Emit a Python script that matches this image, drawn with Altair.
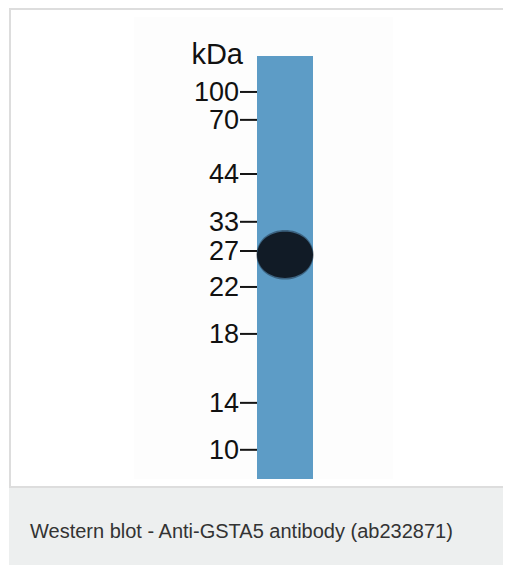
import altair as alt
import pandas as pd

# ---- data ----
marker_kda = ["100", "70", "44", "33", "27", "22", "18", "14", "10"]
# relative migration distance (0 = top of lane, 1 = bottom of lane)
marker_mobility = [0.085, 0.151, 0.279, 0.392, 0.461, 0.546, 0.657, 0.820, 0.931]
band_lane = [0.5]
band_mobility = [0.470]
lane_span = [0, 1]
unit_label = "kDa"
caption = "Western blot - Anti-GSTA5 antibody (ab232871)"

W, H = 56, 423
xs = alt.Scale(domain=[0, 1])
ys = alt.Scale(domain=[0, 1], reverse=True)

markers = pd.DataFrame({"kda": marker_kda, "mob": marker_mobility})
band = pd.DataFrame({"lane": band_lane, "mob": band_mobility})
lane = pd.DataFrame({"x": [lane_span[0]], "x2": [lane_span[1]],
                     "y": [lane_span[0]], "y2": [lane_span[1]]})
one = pd.DataFrame({"k": [0]})

frame = alt.Chart(one).mark_rect(fill="white", stroke="#dddddd", strokeWidth=2).encode(
    x=alt.value(-247), x2=alt.value(360), y=alt.value(-47), y2=alt.value(431))
strip = alt.Chart(one).mark_rect(fill="#edefef").encode(
    x=alt.value(-248), x2=alt.value(360), y=alt.value(432), y2=alt.value(530))
image_bg = alt.Chart(one).mark_rect(fill="#fdfdfd").encode(
    x=alt.value(-123), x2=alt.value(136), y=alt.value(-39), y2=alt.value(423))

lane_rect = alt.Chart(lane).mark_rect(fill="#5d9cc6").encode(
    x=alt.X("x:Q", scale=xs, axis=None), x2="x2:Q",
    y=alt.Y("y:Q", scale=ys, axis=None), y2="y2:Q")

halo_path = "M -1 0 C -0.95 -1.15, 0.95 -1.15, 1 0 C 0.95 1.15, -0.95 1.15, -1 0 Z"
band_path = "M -1 0 C -0.95 -1.1, 0.95 -1.1, 1 0 C 0.95 1.1, -0.95 1.1, -1 0 Z"

halo = alt.Chart(band).mark_point(shape=halo_path, filled=True, color="#14202c",
                                  opacity=0.45, size=3300, strokeWidth=0).encode(
    x=alt.X("lane:Q", scale=xs, axis=None), y=alt.Y("mob:Q", scale=ys, axis=None))
band_mark = alt.Chart(band).mark_point(shape=band_path, filled=True, color="#111b26",
                                       opacity=1, size=3136, strokeWidth=0).encode(
    x=alt.X("lane:Q", scale=xs, axis=None), y=alt.Y("mob:Q", scale=ys, axis=None))

ticks = alt.Chart(markers).mark_rule(color="#151515", strokeWidth=2).encode(
    x=alt.value(-17), x2=alt.value(0), y=alt.Y("mob:Q", scale=ys, axis=None))
labels = alt.Chart(markers).mark_text(align="right", baseline="middle", font="Liberation Sans",
                                      fontSize=27, color="#111111", dy=1).encode(
    x=alt.value(-18), y=alt.Y("mob:Q", scale=ys, axis=None), text="kda:N")

unit = alt.Chart(one).mark_text(align="right", baseline="alphabetic", font="Liberation Sans",
                                fontSize=29, color="#111111").encode(
    x=alt.value(-14), y=alt.value(8), text=alt.value(unit_label))
cap = alt.Chart(one).mark_text(align="left", baseline="alphabetic", font="Liberation Sans",
                               fontSize=20, color="#333333").encode(
    x=alt.value(-227), y=alt.value(482), text=alt.value(caption))

chart = alt.layer(frame, strip, image_bg, lane_rect, halo, band_mark, ticks, labels, unit, cap).properties(
    width=W, height=H,
    autosize=alt.AutoSizeParams(type="none"),
    padding={"left": 249, "top": 48, "right": 190, "bottom": 86},
    background="white",
).configure_view(stroke=None)

chart.save("out.html", embed_options={"renderer": "svg", "actions": False})
